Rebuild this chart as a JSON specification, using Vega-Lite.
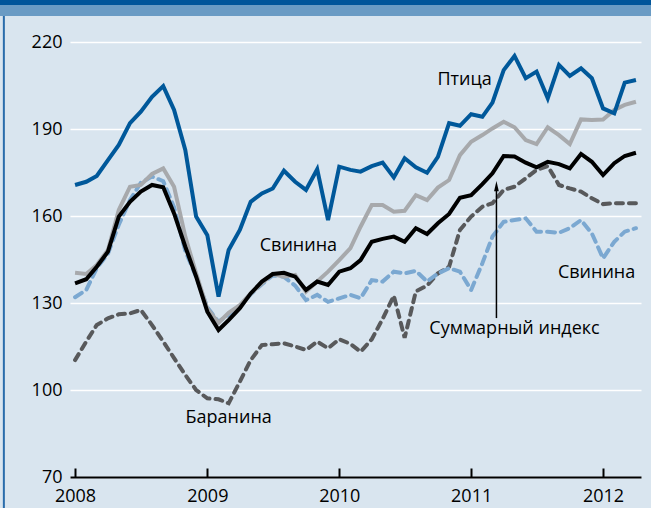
{
  "$schema": "https://vega.github.io/schema/vega-lite/v6.json",
  "width": 571,
  "height": 435,
  "autosize": {"type": "none"},
  "padding": {"left": 70, "top": 42, "right": 10, "bottom": 31},
  "background": "#d9e5ef",
  "config": {
    "view": {"stroke": null},
    "font": "Open Sans",
    "axisY": {"domain": false, "ticks": false, "grid": true, "gridColor": "#ffffff", "gridWidth": 1.5, "labelFontSize": 18, "labelColor": "#000000", "labelPadding": 8, "labelFont": "Open Sans", "title": null},
    "axisX": {"domain": true, "domainColor": "#000000", "domainWidth": 2, "ticks": true, "tickColor": "#000000", "tickWidth": 2, "tickSize": -9, "grid": false, "labelFontSize": 18, "labelColor": "#000000", "labelPadding": 19, "labelFont": "Open Sans", "format": "%Y", "title": null}
  },
  "datasets": {
    "meat": [
      {"d": "2008-01-01", "poultry": 170.7, "beef": 140.4, "total": 136.8, "pork": 132.0, "lamb": 110.3},
      {"d": "2008-02-01", "poultry": 171.8, "beef": 140.0, "total": 138.2, "pork": 134.5, "lamb": 116.7},
      {"d": "2008-03-01", "poultry": 173.8, "beef": 143.1, "total": 142.5, "pork": 142.0, "lamb": 122.4},
      {"d": "2008-04-01", "poultry": 179.3, "beef": 148.3, "total": 147.7, "pork": 147.0, "lamb": 124.7},
      {"d": "2008-05-01", "poultry": 184.5, "beef": 162.1, "total": 159.8, "pork": 157.0, "lamb": 126.1},
      {"d": "2008-06-01", "poultry": 192.0, "beef": 170.1, "total": 164.9, "pork": 165.5, "lamb": 126.4},
      {"d": "2008-07-01", "poultry": 196.0, "beef": 170.7, "total": 168.4, "pork": 171.5, "lamb": 127.6},
      {"d": "2008-08-01", "poultry": 201.1, "beef": 174.5, "total": 170.7, "pork": 173.6, "lamb": 122.4},
      {"d": "2008-09-01", "poultry": 204.8, "beef": 176.4, "total": 169.9, "pork": 172.0, "lamb": 116.7},
      {"d": "2008-10-01", "poultry": 196.6, "beef": 170.1, "total": 160.9, "pork": 163.0, "lamb": 111.0},
      {"d": "2008-11-01", "poultry": 182.8, "beef": 152.9, "total": 149.4, "pork": 148.0, "lamb": 105.2},
      {"d": "2008-12-01", "poultry": 159.8, "beef": 140.2, "total": 139.1, "pork": 139.0, "lamb": 100.0},
      {"d": "2009-01-01", "poultry": 153.4, "beef": 128.0, "total": 127.0, "pork": 128.5, "lamb": 97.1},
      {"d": "2009-02-01", "poultry": 132.2, "beef": 123.2, "total": 120.7, "pork": 123.5, "lamb": 96.8},
      {"d": "2009-03-01", "poultry": 148.3, "beef": 126.6, "total": 124.1, "pork": 126.0, "lamb": 95.4},
      {"d": "2009-04-01", "poultry": 155.2, "beef": 129.3, "total": 128.2, "pork": 129.0, "lamb": 102.9},
      {"d": "2009-05-01", "poultry": 164.9, "beef": 133.3, "total": 133.3, "pork": 133.0, "lamb": 110.3},
      {"d": "2009-06-01", "poultry": 167.8, "beef": 136.8, "total": 137.4, "pork": 136.5, "lamb": 115.5},
      {"d": "2009-07-01", "poultry": 169.5, "beef": 140.0, "total": 140.0, "pork": 139.5, "lamb": 115.8},
      {"d": "2009-08-01", "poultry": 175.6, "beef": 139.1, "total": 140.4, "pork": 139.0, "lamb": 116.1},
      {"d": "2009-09-01", "poultry": 171.8, "beef": 139.7, "total": 139.1, "pork": 136.0, "lamb": 115.0},
      {"d": "2009-10-01", "poultry": 169.0, "beef": 133.9, "total": 134.5, "pork": 131.0, "lamb": 113.8},
      {"d": "2009-11-01", "poultry": 176.1, "beef": 137.4, "total": 137.4, "pork": 132.8, "lamb": 116.7},
      {"d": "2009-12-01", "poultry": 158.6, "beef": 140.8, "total": 136.2, "pork": 130.4, "lamb": 114.4},
      {"d": "2010-01-01", "poultry": 177.0, "beef": 144.8, "total": 140.8, "pork": 131.6, "lamb": 117.5},
      {"d": "2010-02-01", "poultry": 175.9, "beef": 148.9, "total": 142.0, "pork": 132.8, "lamb": 115.9},
      {"d": "2010-03-01", "poultry": 175.3, "beef": 156.3, "total": 144.8, "pork": 131.6, "lamb": 113.2},
      {"d": "2010-04-01", "poultry": 177.2, "beef": 163.8, "total": 151.1, "pork": 137.9, "lamb": 117.5},
      {"d": "2010-05-01", "poultry": 178.4, "beef": 163.8, "total": 152.1, "pork": 137.4, "lamb": 124.5},
      {"d": "2010-06-01", "poultry": 173.3, "beef": 161.5, "total": 152.9, "pork": 140.8, "lamb": 132.5},
      {"d": "2010-07-01", "poultry": 179.9, "beef": 161.8, "total": 151.1, "pork": 140.2, "lamb": 118.0},
      {"d": "2010-08-01", "poultry": 176.8, "beef": 167.2, "total": 155.8, "pork": 141.1, "lamb": 134.0},
      {"d": "2010-09-01", "poultry": 174.9, "beef": 165.5, "total": 153.8, "pork": 137.4, "lamb": 136.0},
      {"d": "2010-10-01", "poultry": 180.4, "beef": 169.8, "total": 157.5, "pork": 140.2, "lamb": 140.2},
      {"d": "2010-11-01", "poultry": 192.0, "beef": 172.4, "total": 160.7, "pork": 142.0, "lamb": 142.5},
      {"d": "2010-12-01", "poultry": 191.1, "beef": 181.0, "total": 166.3, "pork": 140.8, "lamb": 155.2},
      {"d": "2011-01-01", "poultry": 195.1, "beef": 185.6, "total": 167.2, "pork": 134.5, "lamb": 159.8},
      {"d": "2011-02-01", "poultry": 194.2, "beef": 187.9, "total": 171.0, "pork": 143.7, "lamb": 163.2},
      {"d": "2011-03-01", "poultry": 199.1, "beef": 190.2, "total": 174.7, "pork": 152.9, "lamb": 164.4},
      {"d": "2011-04-01", "poultry": 210.3, "beef": 192.5, "total": 180.7, "pork": 158.0, "lamb": 169.0},
      {"d": "2011-05-01", "poultry": 215.2, "beef": 190.6, "total": 180.5, "pork": 158.6, "lamb": 170.1},
      {"d": "2011-06-01", "poultry": 207.5, "beef": 186.2, "total": 178.4, "pork": 159.2, "lamb": 173.0},
      {"d": "2011-07-01", "poultry": 209.8, "beef": 184.8, "total": 176.8, "pork": 154.6, "lamb": 175.9},
      {"d": "2011-08-01", "poultry": 200.6, "beef": 190.6, "total": 178.7, "pork": 154.6, "lamb": 177.2},
      {"d": "2011-09-01", "poultry": 212.1, "beef": 187.9, "total": 177.9, "pork": 154.2, "lamb": 170.7},
      {"d": "2011-10-01", "poultry": 208.3, "beef": 184.8, "total": 176.4, "pork": 155.8, "lamb": 169.5},
      {"d": "2011-11-01", "poultry": 210.9, "beef": 193.3, "total": 181.4, "pork": 158.6, "lamb": 168.4},
      {"d": "2011-12-01", "poultry": 207.5, "beef": 193.1, "total": 178.7, "pork": 154.0, "lamb": 166.1},
      {"d": "2012-01-01", "poultry": 197.1, "beef": 193.3, "total": 174.1, "pork": 145.4, "lamb": 164.1},
      {"d": "2012-02-01", "poultry": 195.4, "beef": 196.6, "total": 178.2, "pork": 151.1, "lamb": 164.4},
      {"d": "2012-03-01", "poultry": 206.0, "beef": 198.3, "total": 180.7, "pork": 154.6, "lamb": 164.4},
      {"d": "2012-04-01", "poultry": 206.9, "beef": 199.4, "total": 181.8, "pork": 155.8, "lamb": 164.4}
    ]
  },
  "layer": [
    {
      "data": {"values": [{}]},
      "mark": {"type": "rect", "color": "#00559a", "clip": false},
      "encoding": {
        "x": {"datum": {"year": 2007, "month": 1, "date": 1, "utc": true}, "type": "temporal", "scale": {"type": "utc", "domain": [{"year": 2007, "month": 12, "date": 18, "utc": true}, {"year": 2012, "month": 4, "date": 15, "utc": true}], "nice": false}},
        "x2": {"datum": {"year": 2013, "month": 1, "date": 1, "utc": true}},
        "y": {"datum": 240, "type": "quantitative", "scale": {"domain": [70, 220], "nice": false, "zero": false}},
        "y2": {"datum": 232.76}
      }
    },
    {
      "data": {"values": [{}]},
      "mark": {"type": "rect", "color": "#6a9bc4", "clip": false},
      "encoding": {
        "x": {"datum": {"year": 2007, "month": 1, "date": 1, "utc": true}, "type": "temporal"},
        "x2": {"datum": {"year": 2013, "month": 1, "date": 1, "utc": true}},
        "y": {"datum": 232.76, "type": "quantitative"},
        "y2": {"datum": 228.97}
      }
    },
    {
      "data": {"values": [{}]},
      "mark": {"type": "rule", "color": "#2a6cab", "strokeWidth": 2, "clip": false},
      "encoding": {
        "x": {"datum": {"year": 2007, "month": 6, "date": 18, "utc": true}, "type": "temporal"},
        "y": {"datum": 40, "type": "quantitative"},
        "y2": {"datum": 229}
      }
    },
    {
      "data": {"name": "meat"},
      "mark": {"type": "line", "color": "#58595b", "strokeWidth": 4, "strokeDash": [7, 6], "strokeCap": "round"},
      "encoding": {
        "x": {"field": "d", "type": "temporal", "axis": {"values": [{"year": 2008, "month": 1, "date": 1, "utc": true}, {"year": 2009, "month": 1, "date": 1, "utc": true}, {"year": 2010, "month": 1, "date": 1, "utc": true}, {"year": 2011, "month": 1, "date": 1, "utc": true}, {"year": 2012, "month": 1, "date": 1, "utc": true}]}},
        "y": {"field": "lamb", "type": "quantitative", "axis": {"values": [70, 100, 130, 160, 190, 220]}}
      }
    },
    {
      "data": {"name": "meat"},
      "mark": {"type": "line", "color": "#7ba8d1", "strokeWidth": 4, "strokeDash": [8, 6], "strokeCap": "round"},
      "encoding": {
        "x": {"field": "d", "type": "temporal"},
        "y": {"field": "pork", "type": "quantitative"}
      }
    },
    {
      "data": {"name": "meat"},
      "mark": {"type": "line", "color": "#a7a9ac", "strokeWidth": 4},
      "encoding": {
        "x": {"field": "d", "type": "temporal"},
        "y": {"field": "beef", "type": "quantitative"}
      }
    },
    {
      "data": {"name": "meat"},
      "mark": {"type": "line", "color": "#000000", "strokeWidth": 4},
      "encoding": {
        "x": {"field": "d", "type": "temporal"},
        "y": {"field": "total", "type": "quantitative"}
      }
    },
    {
      "data": {"name": "meat"},
      "mark": {"type": "line", "color": "#00589a", "strokeWidth": 4},
      "encoding": {
        "x": {"field": "d", "type": "temporal"},
        "y": {"field": "poultry", "type": "quantitative"}
      }
    },
    {
      "data": {"values": [{}]},
      "mark": {"type": "rule", "color": "#000000", "strokeWidth": 1.5},
      "encoding": {
        "x": {"datum": {"year": 2011, "month": 3, "date": 12, "utc": true}, "type": "temporal"},
        "y": {"datum": 124.8, "type": "quantitative"},
        "y2": {"datum": 169.5}
      }
    },
    {
      "data": {"values": [{}]},
      "mark": {"type": "point", "shape": "M-0.45,1L0,-1L0.45,1Z", "filled": true, "color": "#000000", "size": 110, "opacity": 1},
      "encoding": {
        "x": {"datum": {"year": 2011, "month": 3, "date": 12, "utc": true}, "type": "temporal"},
        "y": {"datum": 170.3, "type": "quantitative"}
      }
    },
    {
      "data": {"values": [{}]},
      "mark": {"type": "text", "text": "Птица", "fontSize": 18, "font": "Open Sans", "color": "#000000", "align": "center", "baseline": "middle"},
      "encoding": {
        "x": {"datum": {"year": 2010, "month": 12, "date": 14, "utc": true}, "type": "temporal"},
        "y": {"datum": 206.9, "type": "quantitative"}
      }
    },
    {
      "data": {"values": [{}]},
      "mark": {"type": "text", "text": "Свинина", "fontSize": 18, "font": "Open Sans", "color": "#000000", "align": "center", "baseline": "middle"},
      "encoding": {
        "x": {"datum": {"year": 2009, "month": 9, "date": 10, "utc": true}, "type": "temporal"},
        "y": {"datum": 149.7, "type": "quantitative"}
      }
    },
    {
      "data": {"values": [{}]},
      "mark": {"type": "text", "text": "Свинина", "fontSize": 18, "font": "Open Sans", "color": "#000000", "align": "center", "baseline": "middle"},
      "encoding": {
        "x": {"datum": {"year": 2011, "month": 12, "date": 14, "utc": true}, "type": "temporal"},
        "y": {"datum": 140.3, "type": "quantitative"}
      }
    },
    {
      "data": {"values": [{}]},
      "mark": {"type": "text", "text": "Суммарный индекс", "fontSize": 18, "font": "Open Sans", "color": "#000000", "align": "center", "baseline": "middle"},
      "encoding": {
        "x": {"datum": {"year": 2011, "month": 5, "date": 1, "utc": true}, "type": "temporal"},
        "y": {"datum": 121.2, "type": "quantitative"}
      }
    },
    {
      "data": {"values": [{}]},
      "mark": {"type": "text", "text": "Баранина", "fontSize": 18, "font": "Open Sans", "color": "#000000", "align": "center", "baseline": "middle"},
      "encoding": {
        "x": {"datum": {"year": 2009, "month": 3, "date": 1, "utc": true}, "type": "temporal"},
        "y": {"datum": 90.3, "type": "quantitative"}
      }
    }
  ]
}
